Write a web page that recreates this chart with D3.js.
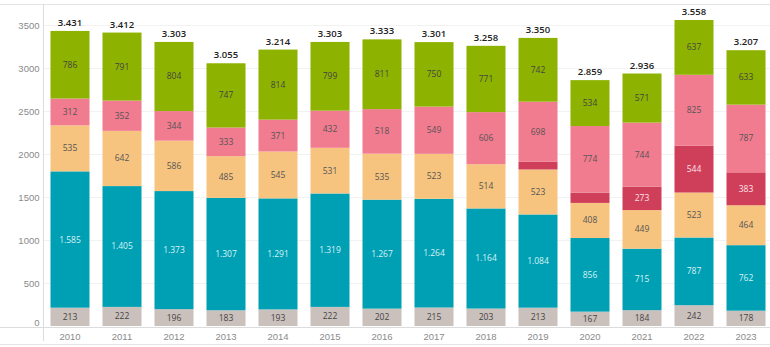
<!DOCTYPE html>
<html>
<head>
<meta charset="utf-8">
<script src="https://cdn.jsdelivr.net/npm/d3@7"></script>
<style>
  html, body { margin: 0; padding: 0; background: #fff; }
  svg { display: block; font-family: "Open Sans", "Noto Sans", sans-serif; }
</style>
</head>
<body>
<svg id="chart" width="770" height="347"></svg>
<script>
// Years on the x axis
const years = ["2010","2011","2012","2013","2014","2015","2016","2017","2018","2019","2020","2021","2022","2023"];

// Stacked series, bottom to top
const seriesNames = ["grau", "tuerkis", "orange", "dunkelrot", "rosa", "gruen"];
const grau      = [213, 222, 196, 183, 193, 222, 202, 215, 203, 213, 167, 184, 242, 178];
const tuerkis   = [1585, 1405, 1373, 1307, 1291, 1319, 1267, 1264, 1164, 1084, 856, 715, 787, 762];
const orange    = [535, 642, 586, 485, 545, 531, 535, 523, 514, 523, 408, 449, 523, 464];
const dunkelrot = [0, 0, 0, 0, 0, 0, 0, 0, 0, 90, 120, 273, 544, 383];
const rosa      = [312, 352, 344, 333, 371, 432, 518, 549, 606, 698, 774, 744, 825, 787];
const gruen     = [786, 791, 804, 747, 814, 799, 811, 750, 771, 742, 534, 571, 637, 633];

// Which segments carry a value label (small dark-red slices in 2019/2020 stay unlabeled)
const showLabel = {
  dunkelrot: [false, false, false, false, false, false, false, false, false, false, false, true, true, true]
};

const yTicks = [0, 500, 1000, 1500, 2000, 2500, 3000, 3500];

const colors = {
  grau: "#cac0bc",
  tuerkis: "#00a0b4",
  orange: "#f7c47f",
  dunkelrot: "#d03f5a",
  rosa: "#f17b8f",
  gruen: "#8eb200"
};
const labelColors = {
  grau: "#444", tuerkis: "#d8f2f5", orange: "#555", dunkelrot: "#fbe3e7", rosa: "#555", gruen: "#444"
};

const seriesData = { grau, tuerkis, orange, dunkelrot, rosa, gruen };
const rows = years.map((yr, i) => {
  const r = { year: yr };
  seriesNames.forEach(k => r[k] = seriesData[k][i]);
  return r;
});
const totals = years.map((yr, i) => seriesNames.reduce((s, k) => s + seriesData[k][i], 0));

const svg = d3.select("#chart");
const W = 770, H = 347;
const mLeft = 44, mRight = 772, mTop = 25, mBottom = 326;

const x = d3.scaleBand().domain(years).range([mLeft, mRight]).paddingInner(0.25).paddingOuter(0.125);
const y = d3.scaleLinear().domain([0, 3500]).range([mBottom, mTop]);

const fmt = v => d3.format(",")(v).replace(/,/g, ".");

// frame lines
svg.append("line").attr("x1", 0).attr("x2", W).attr("y1", 4.5).attr("y2", 4.5).attr("stroke", "#e4e4e4");
svg.append("line").attr("x1", 0).attr("x2", W).attr("y1", 344.5).attr("y2", 344.5).attr("stroke", "#e4e4e4");

// gridlines
svg.append("g").selectAll("line").data(yTicks.filter(d => d > 0)).join("line")
  .attr("x1", mLeft).attr("x2", W)
  .attr("y1", d => Math.round(y(d)) + 0.5).attr("y2", d => Math.round(y(d)) + 0.5)
  .attr("stroke", "#f2f2f2");

// y axis labels
const yAxis = d3.axisLeft(y).tickValues(yTicks).tickFormat(d3.format("d")).tickSize(0).tickPadding(4);
const gy = svg.append("g").attr("transform", `translate(${mLeft - 0.5},0)`).call(yAxis);
gy.select(".domain").remove();
gy.selectAll("text").attr("fill", "#8a8a8a").attr("font-size", 9.5)
  .attr("dy", d => d === 0 ? "-0.1em" : "0.32em");

// stacked bars
const stack = d3.stack().keys(seriesNames);
const layers = stack(rows);

const gBars = svg.append("g");
layers.forEach(layer => {
  const key = layer.key;
  gBars.append("g").selectAll("rect").data(layer).join("rect")
    .attr("x", d => x(d.data.year))
    .attr("width", x.bandwidth())
    .attr("y", d => y(d[1]))
    .attr("height", d => Math.max(0, y(d[0]) - y(d[1])))
    .attr("fill", colors[key]);
});

// segment labels
layers.forEach(layer => {
  const key = layer.key;
  gBars.append("g").selectAll("text").data(layer.filter((d, i) => {
      const v = d[1] - d[0];
      if (v <= 0) return false;
      if (showLabel[key]) return showLabel[key][i];
      return true;
    })).join("text")
    .attr("x", d => x(d.data.year) + x.bandwidth() / 2)
    .attr("y", d => (y(d[0]) + y(d[1])) / 2)
    .attr("dy", "0.35em")
    .attr("text-anchor", "middle")
    .attr("font-size", 8.5)
    .attr("fill", labelColors[key])
    .text(d => fmt(d[1] - d[0]));
});

// totals on top
svg.append("g").selectAll("text").data(years).join("text")
  .attr("x", d => x(d) + x.bandwidth() / 2)
  .attr("y", (d, i) => y(totals[i]) - 5)
  .attr("text-anchor", "middle")
  .attr("font-size", 9.5)
  .attr("font-weight", 600)
  .attr("fill", "#222")
  .text((d, i) => fmt(totals[i]));

// axis lines
svg.append("line").attr("x1", mLeft - 0.5).attr("x2", mLeft - 0.5).attr("y1", 4).attr("y2", 341).attr("stroke", "#dcdcdc");
svg.append("line").attr("x1", 0).attr("x2", W).attr("y1", mBottom + 1.5).attr("y2", mBottom + 1.5).attr("stroke", "#dcdcdc");

// x axis labels
const xAxis = d3.axisBottom(x).tickSize(0).tickPadding(6);
const gx = svg.append("g").attr("transform", `translate(0,${mBottom + 1})`).call(xAxis);
gx.select(".domain").remove();
gx.selectAll("text").attr("fill", "#8a8a8a").attr("font-size", 9.5);
</script>
</body>
</html>
